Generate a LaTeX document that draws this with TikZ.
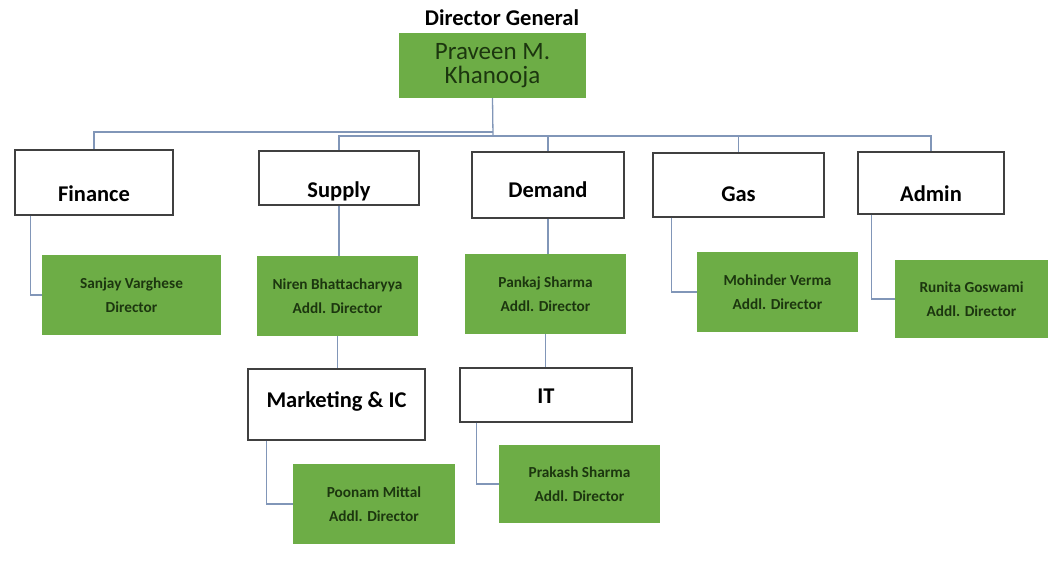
\documentclass[tikz,border=0pt]{standalone}
\usepackage{fontspec}
\setmainfont{Carlito}

\definecolor{boxgreen}{HTML}{6DAD46}
\definecolor{namegreen}{HTML}{1C360F}
\definecolor{linkblue}{HTML}{8196B8}

\tikzset{
  dept/.style={draw=black!75, line width=1.2pt, fill=white,
               font=\bfseries\fontsize{22.5}{26}\selectfont, text depth=2pt, text height=#1},
  head/.style={fill=boxgreen, text=namegreen, align=center,
               font=\bfseries\fontsize{15.3}{24}\selectfont},
  link/.style={draw=linkblue, line width=1.3pt}
}

\begin{document}
\begin{tikzpicture}[x=1pt,y=-1pt]
  \useasboundingbox (0,0) rectangle (1048,566);

  % top
  \node[font=\bfseries\fontsize{22.5}{26}\selectfont] (title) at (502,18) {Director General};
  \node[fill=boxgreen, text=namegreen, align=center, minimum width=187, minimum height=65,
        font=\fontsize{25}{23.5}\selectfont] (dg) at (492.5,65.5) {Praveen M.\\Khanooja};

  % departments
  \node[dept=40pt, minimum width=158, minimum height=65] (finance) at (94,182.5) {Finance};
  \node[dept=40pt, minimum width=160, minimum height=54] (supply) at (339,178) {Supply};
  \node[dept=27pt, minimum width=152, minimum height=66] (demand) at (548,185) {Demand};
  \node[dept=35pt, minimum width=171, minimum height=64] (gas) at (738.5,185) {Gas};
  \node[dept=39pt, minimum width=146, minimum height=62] (admin) at (931,183) {Admin};
  \node[dept=8pt, minimum width=177, minimum height=71] (marketing) at (336.5,404.5) {Marketing \& IC};
  \node[dept=19pt, minimum width=172, minimum height=54] (it) at (546,395) {IT};

  % heads
  \node[head, minimum width=179, minimum height=80] (sanjay) at (131.5,295) {Sanjay Varghese\\Director};
  \node[head, minimum width=161, minimum height=80] (niren) at (337.5,296) {Niren Bhattacharyya\\Addl. Director};
  \node[head, minimum width=161, minimum height=80] (pankaj) at (545.5,294) {Pankaj Sharma\\Addl. Director};
  \node[head, minimum width=161, minimum height=80] (mohinder) at (777.5,292) {Mohinder Verma\\Addl. Director};
  \node[head, minimum width=153, minimum height=78] (runita) at (971.5,299) {Runita Goswami\\Addl. Director};
  \node[head, minimum width=162, minimum height=80] (poonam) at (374,504) {Poonam Mittal\\Addl. Director};
  \node[head, minimum width=161, minimum height=78] (prakash) at (579.5,484) {Prakash Sharma\\Addl. Director};

  % bus
  \coordinate (busL) at (493,132);
  \coordinate (busR) at (493,136);
  \draw[link] (dg.south) -- (busR);
  \draw[link] (busL) -| (finance.north);
  \draw[link] (busR) -| (supply.north);
  \draw[link] (busR) -| (demand.north);
  \draw[link] (busR) -| (gas.north);
  \draw[link] (busR) -| (admin.north);

  % straight drops
  \draw[link] (supply.south) -- (supply.south |- niren.north);
  \draw[link] (niren.south) -- (niren.south |- marketing.north);
  \draw[link] (demand.south) -- (demand.south |- pankaj.north);
  \draw[link] (pankaj.south) -- (pankaj.south |- it.north);

  % side elbows
  \draw[link] ([xshift=16pt]finance.south west) |- (sanjay.west);
  \draw[link] ([xshift=19pt]gas.south west) |- (mohinder.west);
  \draw[link] ([xshift=14pt]admin.south west) |- (runita.west);
  \draw[link] ([xshift=19pt]marketing.south west) |- (poonam.west);
  \draw[link] ([xshift=17pt]it.south west) |- (prakash.west);
\end{tikzpicture}
\end{document}
